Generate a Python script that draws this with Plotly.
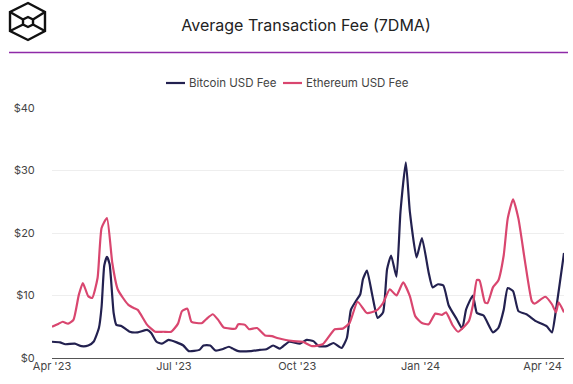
import pandas as pd
import plotly.graph_objects as go

START = "2023-04-01"
TITLE = "Average Transaction Fee (7DMA)"
BTC_NAME = "Bitcoin USD Fee"
ETH_NAME = "Ethereum USD Fee"

btc_days = [0,6,10,17,22,27,31,35,37,39,41,43,46,48,52,58,64,71,74,78,82,87,93,98,102,110,113,118,122,127,132,135,139,148,155,160,165,170,
            172,177,185,190,195,199,205,210,216,220,223,227,230,232,235,239,243,247,250,253,257,260,264,267,272,276,281,284,288,292,296,302,306,309,314,317,322,329,333,337,340,344,348,354,361,369,373,376,382]
btc_fee = [2.6,2.5,2.2,2.3,1.9,2.0,2.6,4.8,8.2,14.8,16.2,15.0,7.2,5.3,5.1,4.2,4.1,4.5,4.0,2.6,2.3,2.9,2.5,2.0,1.1,1.3,2.0,2.0,1.2,1.4,1.8,1.5,1.1,1.1,1.3,1.4,2.0,1.5,
           1.8,2.6,2.3,2.9,2.7,1.9,1.9,2.4,1.6,3.2,7.7,9.2,10.2,12.6,14.0,10.0,6.4,7.3,14.2,16.4,13.0,23.4,31.3,23.4,16.1,19.2,13.7,11.3,11.8,11.6,8.4,6.2,4.7,7.8,10.0,7.2,6.8,4.1,4.8,7.7,11.2,10.7,7.5,7.0,5.9,5.1,4.1,7.7,16.8]

eth_days = [0,5,8,12,16,20,23,27,30,34,37,41,45,49,53,57,61,64,71,77,83,89,94,97,101,104,108,112,115,120,124,128,133,137,139,144,147,153,159,164,168,172,
            180,187,194,202,211,217,222,228,235,242,247,252,257,262,267,271,276,281,286,291,294,299,303,311,314,317,319,323,325,329,333,337,340,344,348,353,358,360,368,373,376,378,382]
eth_fee = [5.0,5.5,5.8,5.5,6.1,10.1,12.0,9.9,9.6,12.8,20.8,22.4,15.2,11.0,9.6,8.5,8.0,7.7,5.3,4.2,4.2,4.2,5.5,7.5,7.9,5.8,5.6,5.6,6.2,7.0,6.1,4.9,4.7,4.7,5.4,5.3,4.6,4.8,3.6,3.5,3.2,3.0,
           2.7,2.6,1.9,2.2,4.6,4.7,5.6,9.0,7.2,7.6,8.8,11.0,10.0,12.1,9.9,6.7,5.6,5.4,7.1,6.9,7.3,5.2,4.2,5.9,8.4,12.5,12.4,8.9,8.8,11.3,12.4,16.4,22.3,25.4,22.3,15.3,9.1,8.7,9.8,8.6,7.3,8.9,7.3]

tick_dates = ["2023-04-01","2023-07-01","2023-10-01","2024-01-01","2024-04-01"]
tick_text = ["Apr '23","Jul '23","Oct '23","Jan '24","Apr '24"]
y_ticks = [0,10,20,30,40]
y_text = ["$0","$10","$20","$30","$40"]

W, H = 573, 382
L, R, T, B = 52, 9, 108, 24
FONT = "Inter, Roboto, sans-serif"
BTC_COLOR = "#232150"
ETH_COLOR = "#d9466f"

def dates(days):
    return pd.Timestamp(START) + pd.to_timedelta(days, unit="D")

def px(x):
    return (x - L) / (W - L - R)

def py(y):
    return (H - B - y) / (H - T - B)

def path(points, close=False):
    s = "M" + " L".join(f"{px(a):.4f},{py(b):.4f}" for a, b in points)
    return s + (" Z" if close else "")

fig = go.Figure()
fig.add_trace(go.Scatter(x=dates(btc_days), y=btc_fee, mode="lines", name=BTC_NAME,
                         line=dict(color=BTC_COLOR, width=2.2, shape="spline", smoothing=0.5)))
fig.add_trace(go.Scatter(x=dates(eth_days), y=eth_fee, mode="lines", name=ETH_NAME,
                         line=dict(color=ETH_COLOR, width=2.2, shape="spline", smoothing=0.5)))

logo = [
    ([(28,3),(45,12),(45,31),(28,40),(10,31),(10,12)], True),
    ([(28,17),(33,19.5),(33,24.5),(28,27),(23,24.5),(23,19.5)], True),
    ([(10,12),(23,19.5)], False), ([(45,12),(33,19.5)], False),
    ([(10,31),(23,24.5)], False), ([(45,31),(33,24.5)], False),
]
shapes = [dict(type="path", xref="paper", yref="paper", path=path(p, c),
               line=dict(color="#111111", width=2.4)) for p, c in logo]
shapes.append(dict(type="line", xref="paper", yref="paper", x0=px(9), x1=px(568), y0=py(52.5), y1=py(52.5),
                   line=dict(color="#8e2aa8", width=1.5)))
# Legend keys are shorter than Plotly's minimum, so the legend is drawn by hand.
for x0, x1, color in [(166, 185, BTC_COLOR), (283, 302, ETH_COLOR)]:
    shapes.append(dict(type="line", xref="paper", yref="paper", x0=px(x0), x1=px(x1), y0=py(83), y1=py(83),
                       line=dict(color=color, width=2.2)))
annotations = [dict(text=t, xref="paper", yref="paper", x=px(x), y=py(83), xanchor="left", yanchor="middle",
                    showarrow=False, font=dict(size=11.5, color="#444444"))
               for t, x in [(BTC_NAME, 187), (ETH_NAME, 304)]]

fig.update_layout(
    width=W, height=H, autosize=False,
    margin=dict(l=L, r=R, t=T, b=B),
    paper_bgcolor="white", plot_bgcolor="white",
    font=dict(family=FONT, color="#444444", size=11),
    title=dict(text=TITLE, x=px(306), xref="paper", xanchor="center", y=1-25/H, yanchor="middle",
               font=dict(size=16, color="#222222")),
    showlegend=False,
    shapes=shapes,
    annotations=annotations,
    xaxis=dict(type="date", range=[dates(0), dates(382)], tickmode="array", tickvals=tick_dates, ticktext=tick_text,
               showgrid=False, zeroline=False, showline=False, ticks="", tickfont=dict(size=11)),
    yaxis=dict(range=[0,40], tickmode="array", tickvals=y_ticks, ticktext=y_text, showgrid=True, gridcolor="#eeeeee",
               gridwidth=1, zeroline=True, zerolinecolor="#555555", zerolinewidth=1, showline=False,
               ticks="outside", ticklen=14, tickcolor="rgba(0,0,0,0)", tickfont=dict(size=11)),
)
fig.write_html("out.html", post_script="document.body.style.margin='0';", config={"displayModeBar": False})
